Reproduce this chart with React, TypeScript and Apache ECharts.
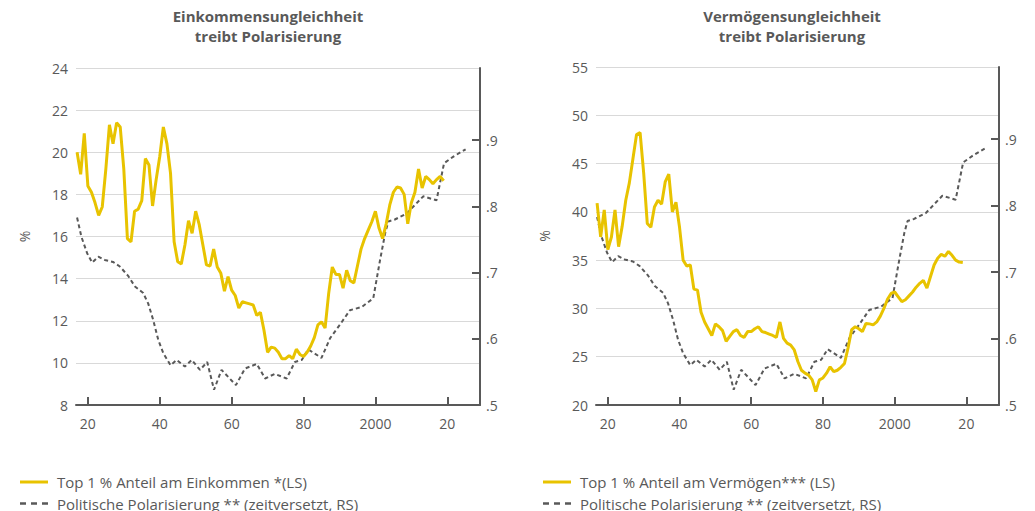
import React, { useEffect, useRef } from "react";
import * as echarts from "echarts";

// ---------- data ----------
const START_YEAR = 1917;

// Top 1 % share of income (%), annual 1917–2019
const incomeShare = [
  20.0, 18.95, 20.9, 18.4, 18.1, 17.6, 17.0, 17.4, 19.2, 21.3, // 1917-1926
  20.4, 21.4, 21.2, 19.2, 15.9, 15.75, 17.2, 17.3, 17.7, 19.7, // 1927-1936
  19.4, 17.45, 18.7, 19.8, 21.2, 20.4, 19.0, 15.75, 14.8, 14.7, // 1937-1946
  15.6, 16.75, 16.15, 17.2, 16.55, 15.6, 14.65, 14.6, 15.4, 14.55, // 1947-1956
  14.25, 13.4, 14.1, 13.45, 13.2, 12.6, 12.9, 12.85, 12.8, 12.75, // 1957-1966
  12.25, 12.4, 11.55, 10.5, 10.75, 10.7, 10.5, 10.2, 10.2, 10.35, // 1967-1976
  10.2, 10.65, 10.4, 10.3, 10.5, 10.8, 11.2, 11.8, 11.95, 11.65, // 1977-1986
  13.3, 14.55, 14.2, 14.2, 13.55, 14.4, 13.9, 13.8, 14.6, 15.4, // 1987-1996
  15.9, 16.3, 16.7, 17.2, 16.4, 15.9, 16.6, 17.5, 18.1, 18.35, // 1997-2006
  18.3, 18.0, 16.6, 17.6, 18.1, 19.2, 18.3, 18.85, 18.7, 18.5, // 2007-2016
  18.7, 18.85, 18.65, // 2017-2019
];

// Top 1 % share of wealth (%), annual 1917–2019
const wealthShare = [
  40.9, 37.4, 40.2, 36.1, 37.4, 40.2, 36.4, 38.5, 41.2, 43.0, // 1917-1926
  45.5, 48.0, 48.2, 44.0, 38.8, 38.4, 40.5, 41.2, 40.8, 43.1, // 1927-1936
  43.9, 40.0, 41.0, 38.4, 35.0, 34.4, 34.5, 32.0, 31.9, 29.6, // 1937-1946
  28.6, 27.9, 27.2, 28.4, 28.1, 27.7, 26.6, 27.1, 27.6, 27.8, // 1947-1956
  27.2, 27.0, 27.6, 27.6, 27.9, 28.1, 27.6, 27.5, 27.35, 27.2, // 1957-1966
  27.0, 28.6, 26.9, 26.4, 26.2, 25.7, 24.5, 23.6, 23.3, 23.1, // 1967-1976
  22.6, 21.4, 22.6, 22.8, 23.3, 23.95, 23.45, 23.6, 23.9, 24.3, // 1977-1986
  25.9, 27.8, 28.1, 27.9, 27.6, 28.45, 28.4, 28.3, 28.6, 29.2, // 1987-1996
  30.0, 30.95, 31.55, 31.7, 31.2, 30.7, 30.9, 31.3, 31.7, 32.2, // 1997-2006
  32.6, 32.9, 32.1, 33.3, 34.5, 35.2, 35.6, 35.4, 35.9, 35.5, // 2007-2016
  35.0, 34.8, 34.75, // 2017-2019
];

// Political polarisation (time-shifted), right scale
const polarYears = [
  1917.0, 1918.2, 1919.8, 1921.2, 1922.9, 1924.7, 1927.0, 1928.9, 1931.2, 1933.1,
  1935.4, 1936.8, 1938.2, 1939.6, 1941.0, 1943.0, 1944.7, 1947.0, 1948.9, 1951.2,
  1953.2, 1955.1, 1957.2, 1961.2, 1963.7, 1967.0, 1969.3, 1972.0, 1975.3, 1977.6,
  1979.5, 1981.3, 1985.0, 1987.4, 1990.1, 1992.9, 1996.2, 1999.4, 2001.3, 2002.7,
  2003.6, 2005.4, 2008.7, 2011.0, 2013.3, 2017.0, 2019.1, 2021.7, 2025.1,
];
const polarValues = [
  0.783, 0.754, 0.729, 0.715, 0.724, 0.719, 0.716, 0.709, 0.695, 0.679,
  0.669, 0.653, 0.628, 0.598, 0.578, 0.56, 0.568, 0.558, 0.568, 0.553,
  0.565, 0.523, 0.553, 0.53, 0.555, 0.562, 0.54, 0.547, 0.54, 0.565,
  0.568, 0.584, 0.571, 0.601, 0.621, 0.643, 0.648, 0.661, 0.719, 0.759,
  0.777, 0.78, 0.789, 0.802, 0.815, 0.809, 0.865, 0.875, 0.886,
];

const xTicks = [1920, 1940, 1960, 1980, 2000, 2020];
const rightTicks = [0.5, 0.6, 0.7, 0.8, 0.9];

const titleLeft = "Einkommensungleichheit\ntreibt Polarisierung";
const titleRight = "Vermögensungleichheit\ntreibt Polarisierung";
const nameIncome = "Top 1 % Anteil am Einkommen *(LS)";
const nameWealth = "Top 1 % Anteil am Vermögen*** (LS)";
const namePolar = "Politische Polarisierung ** (zeitversetzt, RS)";

// ---------- styles ----------
const FONT = '"Open Sans", "Noto Sans", sans-serif';
const GREY = "#595959";
const YELLOW = "#E8C300";
const AXIS_FS = 14;

export default function App() {
  const ref = useRef<HTMLDivElement>(null);

  useEffect(() => {
    if (!ref.current) return;
    const chart = echarts.init(ref.current, undefined, { renderer: "svg" });

    const yearly = (vals: number[]) => vals.map((v, i) => [START_YEAR + i, v]);
    const polar = polarYears.map((y, i) => [y, polarValues[i]]);

    const xAxisCfg = (gridIndex: number) => ({
      type: "value",
      gridIndex,
      min: 1916.7,
      max: 2029.1,
      splitLine: { show: false },
      axisLine: { show: true, lineStyle: { color: GREY, width: 2 } },
      axisTick: {
        show: true,
        inside: true,
        length: 8,
        customValues: xTicks,
        lineStyle: { color: GREY, width: 2 },
      },
      axisLabel: {
        customValues: xTicks,
        margin: 11,
        color: GREY,
        fontSize: AXIS_FS,
        fontFamily: FONT,
        formatter: (v: number) => (v === 2000 ? "2000" : String(Math.round(v) % 100)),
      },
    });

    const leftY = (gridIndex: number, min: number, max: number, interval: number) => ({
      type: "value",
      gridIndex,
      min,
      max,
      interval,
      name: "%",
      nameLocation: "middle",
      nameGap: 45,
      nameRotate: 90,
      nameTextStyle: { color: GREY, fontSize: AXIS_FS, fontFamily: FONT },
      axisLine: { show: false },
      axisTick: { show: false },
      splitLine: { show: true, lineStyle: { color: "#d9d9d9", width: 1 } },
      axisLabel: { color: GREY, fontSize: AXIS_FS, fontFamily: FONT, margin: 8 },
    });

    const rightY = (gridIndex: number) => ({
      type: "value",
      gridIndex,
      position: "right",
      min: 0.5,
      max: 1.0087,
      splitLine: { show: false },
      axisLine: { show: true, lineStyle: { color: GREY, width: 2 } },
      axisTick: {
        show: true,
        inside: true,
        length: 8,
        customValues: rightTicks,
        lineStyle: { color: GREY, width: 2 },
      },
      axisLabel: {
        customValues: rightTicks,
        color: GREY,
        fontSize: AXIS_FS,
        fontFamily: FONT,
        margin: 6,
        formatter: (v: number) => v.toFixed(1).replace(/^0/, ""),
      },
    });

    const titleText = (x: number, text: string) => ({
      type: "text",
      x,
      y: 6,
      style: {
        text,
        align: "center",
        verticalAlign: "top",
        font: `bold 15px ${FONT}`,
        fill: GREY,
        lineHeight: 20,
      },
    });

    // legend drawn as two rows per chart: swatch line + label
    const legendRows = (x: number, first: string) => [
      {
        type: "line",
        shape: { x1: x, y1: 482, x2: x + 28, y2: 482 },
        style: { stroke: YELLOW, lineWidth: 3 },
      },
      {
        type: "text",
        x: x + 37,
        y: 482,
        style: {
          text: first,
          align: "left",
          verticalAlign: "middle",
          font: `15px ${FONT}`,
          fill: GREY,
        },
      },
      {
        type: "line",
        shape: { x1: x, y1: 503.5, x2: x + 28, y2: 503.5 },
        style: { stroke: GREY, lineWidth: 2.5, lineDash: [6, 5] },
      },
      {
        type: "text",
        x: x + 37,
        y: 503.5,
        style: {
          text: namePolar,
          align: "left",
          verticalAlign: "middle",
          font: `15px ${FONT}`,
          fill: GREY,
        },
      },
    ];

    const yellowLine = { color: YELLOW, width: 3 };
    const dashLine = { color: GREY, width: 2, type: [4, 3] };

    chart.setOption({
      animation: false,
      backgroundColor: "#ffffff",
      grid: [
        { left: 76, right: 555, top: 68, bottom: 106 },
        { left: 596, right: 36, top: 67, bottom: 106 },
      ],
      xAxis: [xAxisCfg(0), xAxisCfg(1)],
      yAxis: [leftY(0, 8, 24, 2), rightY(0), leftY(1, 20, 55, 5), rightY(1)],
      graphic: [
        titleText(268, titleLeft),
        titleText(792, titleRight),
        ...legendRows(20, nameIncome),
        ...legendRows(543, nameWealth),
      ],
      series: [
        {
          name: nameIncome,
          type: "line",
          xAxisIndex: 0,
          yAxisIndex: 0,
          data: yearly(incomeShare),
          symbol: "none",
          lineStyle: yellowLine,
          itemStyle: { color: YELLOW },
          z: 3,
        },
        {
          name: namePolar,
          type: "line",
          xAxisIndex: 0,
          yAxisIndex: 1,
          data: polar,
          symbol: "none",
          lineStyle: dashLine,
          itemStyle: { color: GREY },
          z: 2,
        },
        {
          name: nameWealth,
          type: "line",
          xAxisIndex: 1,
          yAxisIndex: 2,
          data: yearly(wealthShare),
          symbol: "none",
          lineStyle: yellowLine,
          itemStyle: { color: YELLOW },
          z: 3,
        },
        {
          name: namePolar,
          type: "line",
          xAxisIndex: 1,
          yAxisIndex: 3,
          data: polar,
          symbol: "none",
          lineStyle: dashLine,
          itemStyle: { color: GREY },
          z: 2,
        },
      ],
    });

    return () => chart.dispose();
  }, []);

  return (
    <div
      ref={ref}
      style={{ position: "fixed", left: 0, top: 0, width: 1035, height: 511, background: "#fff" }}
    />
  );
}
